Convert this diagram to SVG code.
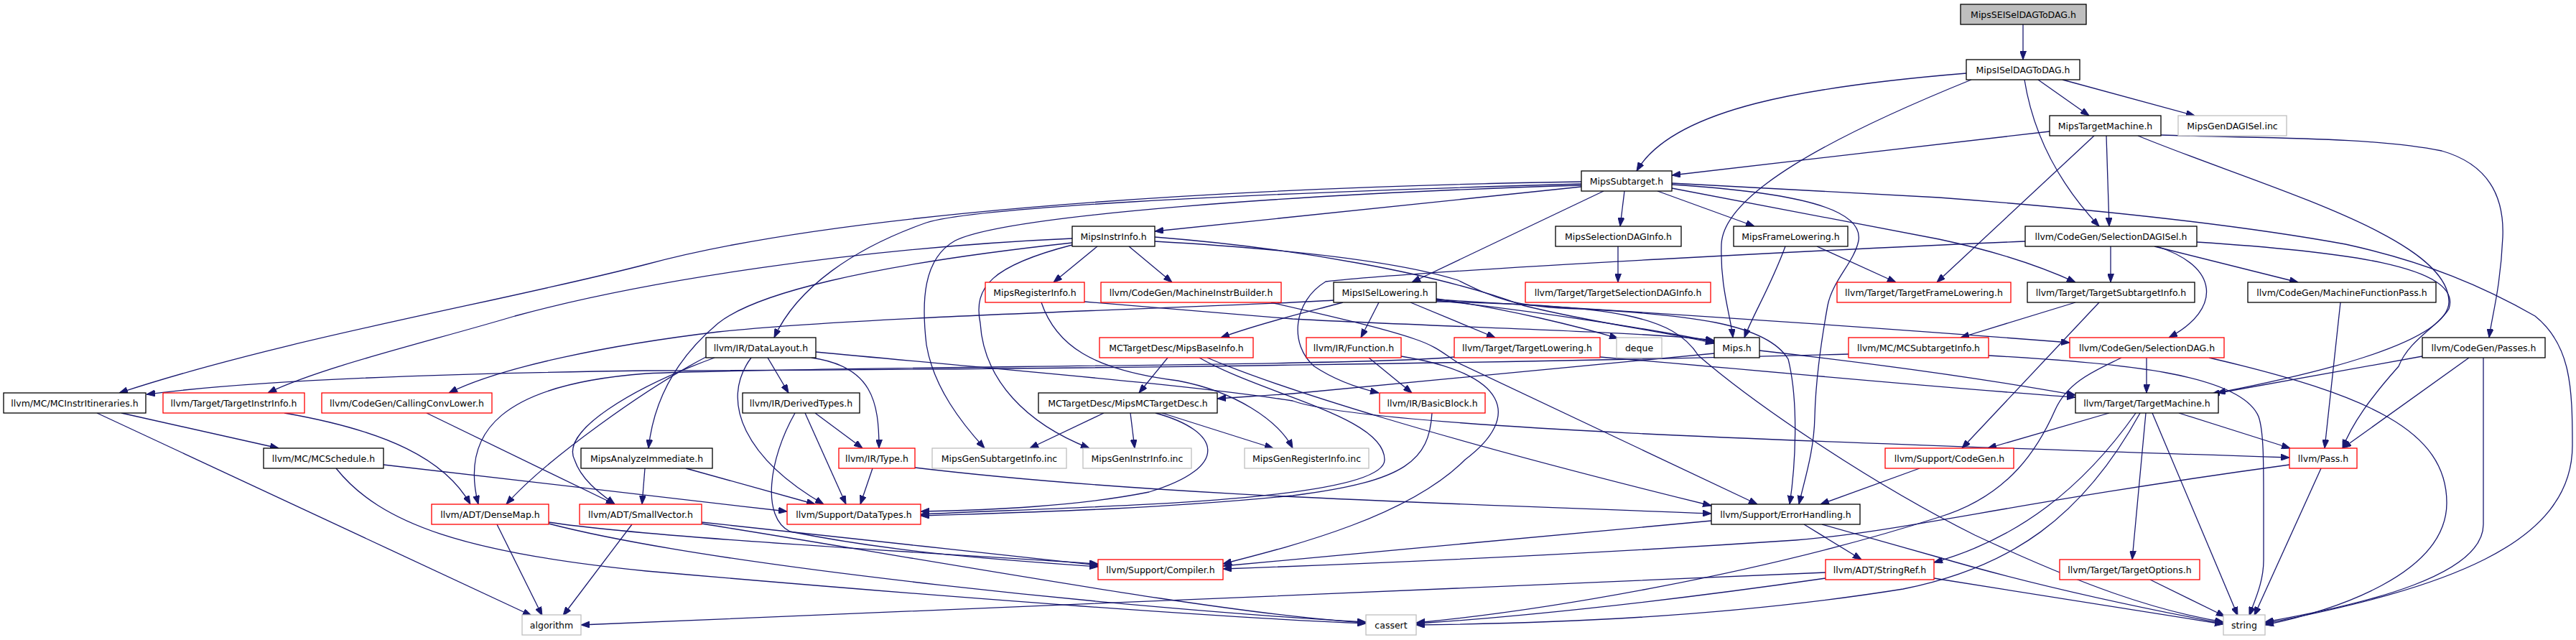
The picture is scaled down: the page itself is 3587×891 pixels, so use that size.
<svg xmlns="http://www.w3.org/2000/svg" width="3587" height="891" viewBox="0 0 3587 891">
<style>
.nd rect{fill:#fff;stroke:#000;stroke-width:1.3}
.nd.r rect{stroke:#ff0000}
.nd.g rect{stroke:#bfbfbf}
.nd.root rect{fill:#bfbfbf}
.nd text{font-family:"DejaVu Sans","Liberation Sans",sans-serif;font-size:12.5px;text-anchor:middle;fill:#000}
#edges path{fill:none;stroke:#191970;stroke-width:1.3;marker-end:url(#ah)}
</style>
<defs>
<marker id="ah" viewBox="0 0 12 9" refX="12" refY="4.5" markerWidth="12" markerHeight="9" markerUnits="userSpaceOnUse" orient="auto"><path d="M0,0 L12,4.5 L0,9 z" fill="#191970" stroke="#191970" stroke-width="1"/></marker>
</defs>
<g id="edges">
<path d="M2817,34 L2817,83"/>
<path d="M2838,111 L2909,161"/>
<path d="M2872,111 L3056,161"/>
<path d="M2738,102 C2520,120 2330,150 2279,238"/>
<path d="M2819,111 C2830,180 2862,250 2923,315"/>
<path d="M2745,111 C2550,190 2400,270 2397,340 C2395,400 2410,440 2413,470"/>
<path d="M2854,183 L2328,244"/>
<path d="M2933,189 L2937,315"/>
<path d="M2916,189 L2697,393"/>
<path d="M2977,189 C3150,260 3410,330 3410,420 C3410,480 3200,525 3087,547"/>
<path d="M3009,188 C3150,193 3300,190 3400,210 C3470,230 3487,280 3485,330 C3482,400 3470,440 3466,470"/>
<path d="M2202,260 L1608,322"/>
<path d="M2262,266 L2256,315"/>
<path d="M2308,266 L2443,315"/>
<path d="M2233,266 L1966,393"/>
<path d="M2202,256 C1700,270 1350,290 1290,310 C1190,345 1110,400 1078,470"/>
<path d="M2202,253 C1650,262 1150,300 900,368 C700,420 400,470 166,547"/>
<path d="M2202,258 C1800,270 1400,300 1330,335 C1285,360 1283,420 1290,480 C1300,540 1340,590 1371,624"/>
<path d="M2328,257 C2500,268 2595,290 2588,335 C2582,365 2552,390 2545,425 C2535,480 2528,540 2527,580 C2526,630 2512,670 2505,702"/>
<path d="M2328,262 L2700,333 C2780,350 2840,370 2890,393"/>
<path d="M2328,255 L2700,275 C2900,290 3100,310 3266,340 C3380,365 3460,400 3530,440 C3580,480 3582,540 3582,620 C3582,760 3400,820 3154,868"/>
<path d="M1528,343 L1467,393"/>
<path d="M1572,343 L1632,393"/>
<path d="M1493,332 C1200,345 900,390 717,440 C600,475 450,510 373,547"/>
<path d="M1493,338 C1200,370 1050,410 1000,450 C940,500 910,560 903,624"/>
<path d="M1493,341 C1380,370 1355,400 1365,450 C1370,530 1430,590 1517,624"/>
<path d="M1608,330 C1800,345 2000,380 2120,425 C2220,450 2320,462 2387,478"/>
<path d="M1608,336 C1800,347 1950,365 2030,390 C2080,415 2110,428 2200,430 C2350,438 2460,450 2490,500 C2505,560 2500,650 2492,702"/>
<path d="M2253,343 L2253,393"/>
<path d="M2486,343 C2465,400 2440,440 2429,470"/>
<path d="M2530,343 L2640,393"/>
<path d="M2939,343 L2939,393"/>
<path d="M3000,343 L3200,393"/>
<path d="M3003,343 C3090,370 3095,430 3020,470"/>
<path d="M2820,336 C2600,345 2000,375 1846,392 C1800,420 1795,480 1830,510 C1860,530 1890,540 1920,547"/>
<path d="M3059,337 C3260,350 3430,370 3410,430 C3395,455 3355,472 3340,510 C3300,555 3275,590 3262,624"/>
<path d="M1450,421 C1470,480 1520,515 1640,530 C1720,545 1780,585 1800,624"/>
<path d="M1510,420 L1800,444 C2000,455 2300,462 2387,474"/>
<path d="M1770,421 C1850,440 1920,455 1970,472 C2000,482 2010,492 2030,505 L2447,702"/>
<path d="M1857,418 C1700,428 1200,440 1000,462 C850,480 700,510 625,547"/>
<path d="M1870,421 C1830,432 1760,448 1700,470"/>
<path d="M1920,421 L1895,470"/>
<path d="M1964,421 L2082,470"/>
<path d="M2000,416 C2100,430 2200,455 2253,471"/>
<path d="M2000,418 C2150,435 2300,458 2387,476"/>
<path d="M2000,417 C2300,435 2600,455 2882,477"/>
<path d="M2000,420 C2250,425 2330,440 2365,495 C2440,560 2600,670 2750,745 C2900,815 3000,850 3096,866"/>
<path d="M1069,498 L1098,547"/>
<path d="M1130,498 C1215,510 1224,560 1224,624"/>
<path d="M1046,498 C1000,560 1040,640 1147,702"/>
<path d="M1136,490 C1400,515 1650,535 1800,558 C1900,595 2500,615 3188,637"/>
<path d="M985,496 C900,540 760,640 705,702"/>
<path d="M995,498 C880,540 780,600 800,640 C810,670 840,690 856,702"/>
<path d="M1626,498 L1586,547"/>
<path d="M1681,498 C1780,540 2000,610 2383,704"/>
<path d="M1670,498 C1760,550 1928,580 1928,640 C1928,700 1500,705 1282,716"/>
<path d="M1906,498 L1966,547"/>
<path d="M1951,496 C2100,520 2120,580 2040,640 C1960,720 1800,760 1703,785"/>
<path d="M2228,497 C2500,520 2700,540 2890,553"/>
<path d="M2025,497 C1900,510 1100,510 900,520 C700,535 640,600 666,702"/>
<path d="M2387,492 L1800,548 C1760,551 1720,553 1695,555"/>
<path d="M2450,488 C2600,505 2750,525 2890,550"/>
<path d="M2574,493 C2200,503 1500,515 900,516 C600,520 350,530 204,549"/>
<path d="M2769,495 C2950,505 3120,520 3145,580 C3152,600 3152,640 3152,700 L3152,780 C3152,810 3140,835 3132,857"/>
<path d="M2989,498 L2989,547"/>
<path d="M2954,498 C2920,515 2880,530 2862,570 C2840,620 2800,690 2700,720 C2450,800 2150,850 1972,867"/>
<path d="M3076,498 C3300,550 3407,600 3407,700 C3407,800 3250,850 3154,870"/>
<path d="M3373,496 L3079,549"/>
<path d="M3438,498 L3262,624"/>
<path d="M3458,498 L3458,730 C3458,800 3300,840 3154,866"/>
<path d="M169,575 L388,624"/>
<path d="M135,575 L740,857"/>
<path d="M396,575 C540,600 620,640 655,702"/>
<path d="M594,575 L856,702"/>
<path d="M1135,575 L1201,624"/>
<path d="M1121,575 L1178,702"/>
<path d="M1107,575 C1070,640 1060,720 1100,740 C1250,770 1400,780 1529,789"/>
<path d="M1537,575 L1434,624"/>
<path d="M1574,575 L1580,624"/>
<path d="M1618,575 L1773,624"/>
<path d="M1609,575 C1700,600 1715,650 1600,685 C1500,705 1380,710 1282,712"/>
<path d="M1994,575 C1990,640 1960,670 1800,690 C1600,710 1400,714 1282,718"/>
<path d="M2937,575 L2768,624"/>
<path d="M3034,575 L3189,624"/>
<path d="M2988,575 L2969,779"/>
<path d="M2997,575 L3116,857"/>
<path d="M2974,575 C2900,680 2810,750 2693,783"/>
<path d="M2980,575 C2900,720 2800,790 2650,820 C2400,860 2150,868 1972,870"/>
<path d="M534,647 C700,665 900,690 1096,712"/>
<path d="M468,652 C530,730 650,770 900,795 C1300,830 1700,860 1902,868"/>
<path d="M898,652 L894,702"/>
<path d="M955,652 L1135,702"/>
<path d="M1215,652 L1198,702"/>
<path d="M1274,651 C1600,690 2000,700 2383,715"/>
<path d="M2890,421 L2730,470"/>
<path d="M2923,421 L2732,624"/>
<path d="M3259,421 L3237,624"/>
<path d="M2673,652 L2535,702"/>
<path d="M3188,647 C2800,700 2650,740 2500,752 C2200,772 1900,785 1703,792"/>
<path d="M3232,652 L3139,857"/>
<path d="M692,730 L755,857"/>
<path d="M764,727 C900,748 1300,770 1529,785"/>
<path d="M764,729 C1000,790 1600,850 1902,866"/>
<path d="M880,730 L784,857"/>
<path d="M977,727 C1150,745 1350,768 1529,787"/>
<path d="M977,729 C1300,780 1700,855 1902,867"/>
<path d="M2512,730 L2592,779"/>
<path d="M2537,730 L2700,776 C2850,820 3000,850 3096,868"/>
<path d="M2383,725 C2100,752 1900,770 1703,788"/>
<path d="M2542,805 C2300,840 2100,860 1972,868"/>
<path d="M2542,797 C2000,820 1200,855 809,870"/>
<path d="M2693,805 C2850,830 3000,855 3096,869"/>
<path d="M2994,807 L3098,858"/>
</g>
<g id="n0" class="nd root"><rect x="2730" y="6" width="175" height="28"/><text x="2817.5" y="24.5">MipsSEISelDAGToDAG.h</text></g>
<g id="n1" class="nd"><rect x="2738" y="83" width="158" height="28"/><text x="2817" y="101.5">MipsISelDAGToDAG.h</text></g>
<g id="n2" class="nd"><rect x="2854" y="161" width="155" height="28"/><text x="2931.5" y="179.5">MipsTargetMachine.h</text></g>
<g id="n3" class="nd g"><rect x="3033" y="161" width="151" height="28"/><text x="3108.5" y="179.5">MipsGenDAGISel.inc</text></g>
<g id="n4" class="nd"><rect x="2202" y="238" width="126" height="28"/><text x="2265" y="256.5">MipsSubtarget.h</text></g>
<g id="n5" class="nd"><rect x="1493" y="315" width="115" height="28"/><text x="1550.5" y="333.5">MipsInstrInfo.h</text></g>
<g id="n6" class="nd"><rect x="2166" y="315" width="175" height="28"/><text x="2253.5" y="333.5">MipsSelectionDAGInfo.h</text></g>
<g id="n7" class="nd"><rect x="2414" y="315" width="159" height="28"/><text x="2493.5" y="333.5">MipsFrameLowering.h</text></g>
<g id="n8" class="nd"><rect x="2820" y="315" width="239" height="28"/><text x="2939.5" y="333.5">llvm/CodeGen/SelectionDAGISel.h</text></g>
<g id="n9" class="nd r"><rect x="1372" y="393" width="138" height="28"/><text x="1441" y="411.5">MipsRegisterInfo.h</text></g>
<g id="n10" class="nd r"><rect x="1533" y="393" width="251" height="28"/><text x="1658.5" y="411.5">llvm/CodeGen/MachineInstrBuilder.h</text></g>
<g id="n11" class="nd"><rect x="1857" y="393" width="143" height="28"/><text x="1928.5" y="411.5">MipsISelLowering.h</text></g>
<g id="n12" class="nd r"><rect x="2124" y="393" width="258" height="28"/><text x="2253" y="411.5">llvm/Target/TargetSelectionDAGInfo.h</text></g>
<g id="n13" class="nd r"><rect x="2558" y="393" width="242" height="28"/><text x="2679" y="411.5">llvm/Target/TargetFrameLowering.h</text></g>
<g id="n14" class="nd"><rect x="2823" y="393" width="233" height="28"/><text x="2939.5" y="411.5">llvm/Target/TargetSubtargetInfo.h</text></g>
<g id="n15" class="nd"><rect x="3130" y="393" width="262" height="28"/><text x="3261" y="411.5">llvm/CodeGen/MachineFunctionPass.h</text></g>
<g id="n16" class="nd"><rect x="983" y="470" width="153" height="28"/><text x="1059.5" y="488.5">llvm/IR/DataLayout.h</text></g>
<g id="n17" class="nd r"><rect x="1531" y="470" width="214" height="28"/><text x="1638" y="488.5">MCTargetDesc/MipsBaseInfo.h</text></g>
<g id="n18" class="nd r"><rect x="1819" y="470" width="132" height="28"/><text x="1885" y="488.5">llvm/IR/Function.h</text></g>
<g id="n19" class="nd r"><rect x="2025" y="470" width="203" height="28"/><text x="2126.5" y="488.5">llvm/Target/TargetLowering.h</text></g>
<g id="n20" class="nd g"><rect x="2251" y="470" width="63" height="28"/><text x="2282.5" y="488.5">deque</text></g>
<g id="n21" class="nd"><rect x="2387" y="470" width="63" height="28"/><text x="2418.5" y="488.5">Mips.h</text></g>
<g id="n22" class="nd r"><rect x="2574" y="470" width="195" height="28"/><text x="2671.5" y="488.5">llvm/MC/MCSubtargetInfo.h</text></g>
<g id="n23" class="nd r"><rect x="2882" y="470" width="215" height="28"/><text x="2989.5" y="488.5">llvm/CodeGen/SelectionDAG.h</text></g>
<g id="n24" class="nd"><rect x="3373" y="470" width="171" height="28"/><text x="3458.5" y="488.5">llvm/CodeGen/Passes.h</text></g>
<g id="n25" class="nd"><rect x="5" y="547" width="198" height="28"/><text x="104" y="565.5">llvm/MC/MCInstrItineraries.h</text></g>
<g id="n26" class="nd r"><rect x="227" y="547" width="197" height="28"/><text x="325.5" y="565.5">llvm/Target/TargetInstrInfo.h</text></g>
<g id="n27" class="nd r"><rect x="448" y="547" width="237" height="28"/><text x="566.5" y="565.5">llvm/CodeGen/CallingConvLower.h</text></g>
<g id="n28" class="nd"><rect x="1034" y="547" width="163" height="28"/><text x="1115.5" y="565.5">llvm/IR/DerivedTypes.h</text></g>
<g id="n29" class="nd"><rect x="1446" y="547" width="249" height="28"/><text x="1570.5" y="565.5">MCTargetDesc/MipsMCTargetDesc.h</text></g>
<g id="n30" class="nd r"><rect x="1921" y="547" width="147" height="28"/><text x="1994.5" y="565.5">llvm/IR/BasicBlock.h</text></g>
<g id="n31" class="nd"><rect x="2890" y="547" width="199" height="28"/><text x="2989.5" y="565.5">llvm/Target/TargetMachine.h</text></g>
<g id="n32" class="nd"><rect x="367" y="624" width="167" height="28"/><text x="450.5" y="642.5">llvm/MC/MCSchedule.h</text></g>
<g id="n33" class="nd"><rect x="809" y="624" width="183" height="28"/><text x="900.5" y="642.5">MipsAnalyzeImmediate.h</text></g>
<g id="n34" class="nd r"><rect x="1168" y="624" width="106" height="28"/><text x="1221" y="642.5">llvm/IR/Type.h</text></g>
<g id="n35" class="nd g"><rect x="1298" y="624" width="187" height="28"/><text x="1391.5" y="642.5">MipsGenSubtargetInfo.inc</text></g>
<g id="n36" class="nd g"><rect x="1508" y="624" width="151" height="28"/><text x="1583.5" y="642.5">MipsGenInstrInfo.inc</text></g>
<g id="n37" class="nd g"><rect x="1733" y="624" width="173" height="28"/><text x="1819.5" y="642.5">MipsGenRegisterInfo.inc</text></g>
<g id="n38" class="nd r"><rect x="2625" y="624" width="179" height="28"/><text x="2714.5" y="642.5">llvm/Support/CodeGen.h</text></g>
<g id="n39" class="nd r"><rect x="3188" y="624" width="94" height="28"/><text x="3235" y="642.5">llvm/Pass.h</text></g>
<g id="n40" class="nd r"><rect x="601" y="702" width="163" height="28"/><text x="682.5" y="720.5">llvm/ADT/DenseMap.h</text></g>
<g id="n41" class="nd r"><rect x="807" y="702" width="170" height="28"/><text x="892" y="720.5">llvm/ADT/SmallVector.h</text></g>
<g id="n42" class="nd r"><rect x="1096" y="702" width="186" height="28"/><text x="1189" y="720.5">llvm/Support/DataTypes.h</text></g>
<g id="n43" class="nd"><rect x="2383" y="702" width="207" height="28"/><text x="2486.5" y="720.5">llvm/Support/ErrorHandling.h</text></g>
<g id="n44" class="nd r"><rect x="1529" y="779" width="174" height="28"/><text x="1616" y="797.5">llvm/Support/Compiler.h</text></g>
<g id="n45" class="nd r"><rect x="2542" y="779" width="151" height="28"/><text x="2617.5" y="797.5">llvm/ADT/StringRef.h</text></g>
<g id="n46" class="nd r"><rect x="2868" y="779" width="195" height="28"/><text x="2965.5" y="797.5">llvm/Target/TargetOptions.h</text></g>
<g id="n47" class="nd g"><rect x="727" y="856" width="82" height="28"/><text x="768" y="874.5">algorithm</text></g>
<g id="n48" class="nd g"><rect x="1902" y="856" width="70" height="28"/><text x="1937" y="874.5">cassert</text></g>
<g id="n49" class="nd g"><rect x="3096" y="856" width="58" height="28"/><text x="3125" y="874.5">string</text></g>
</svg>
